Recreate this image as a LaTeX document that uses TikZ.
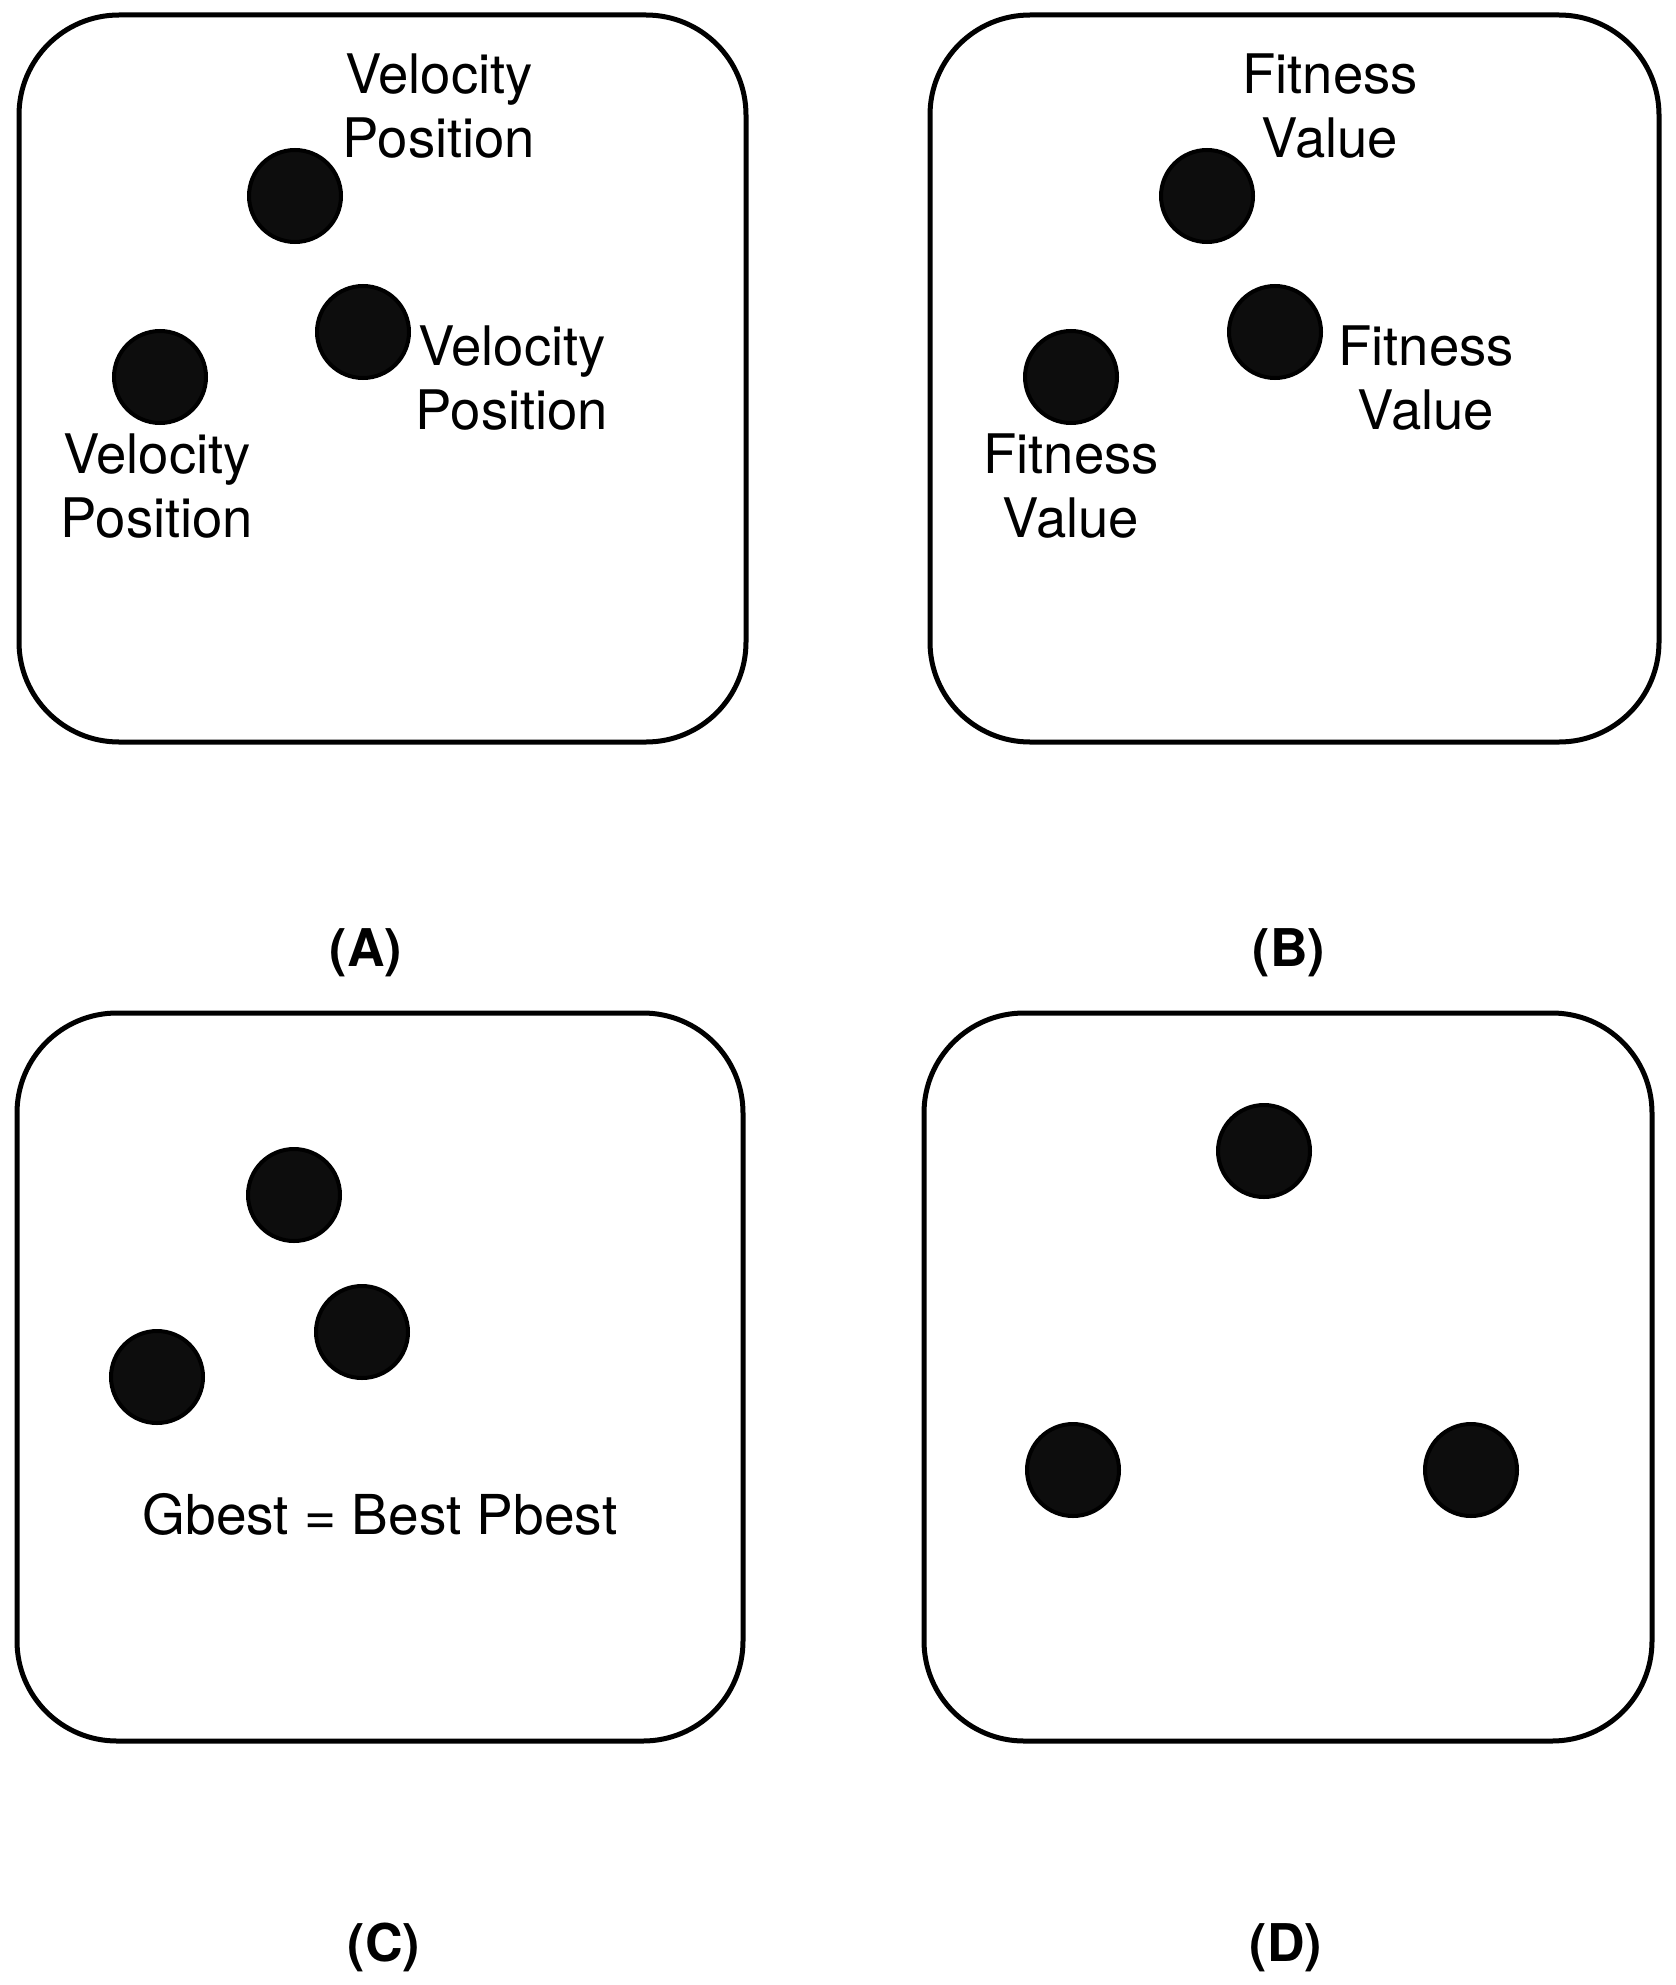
\documentclass[tikz,border=0pt]{standalone}
\usepackage{fontspec}
\setmainfont{TeX Gyre Heros}
\begin{document}
\begin{tikzpicture}[x=1pt,y=-1pt,
  panel/.style={draw=black,line width=5pt,rounded corners=100pt},
  particle/.style={circle,draw=black,line width=4pt,fill=black!95,minimum size=92pt,inner sep=0pt},
  lbl/.style={align=center,inner sep=0pt,font=\fontsize{54.5}{64}\selectfont},
  panelcap/.style={anchor=base,inner sep=0pt,font=\fontsize{52}{60}\selectfont\bfseries}]
\useasboundingbox[fill=white] (0,0) rectangle (1675,1985);
% Panel A
\draw[panel] (19,15) rectangle (746,742);
\node[particle] (a1) at (295,196) {};
\node[particle] (a2) at (363,332) {};
\node[particle] (a3) at (160,377) {};
\node[lbl] (ta1) at (439,106) {Velocity\\Position};
\node[lbl] (ta2) at (512,378) {Velocity\\Position};
\node[lbl] (ta3) at (157,486) {Velocity\\Position};
\node[panelcap] (capA) at (366,966) {(A)};
% Panel B
\draw[panel] (930,15) rectangle (1659,742);
\node[particle] (b1) at (1207,196) {};
\node[particle] (b2) at (1275,332) {};
\node[particle] (b3) at (1071,377) {};
\node[lbl] (tb1) at (1330,106) {Fitness\\Value};
\node[lbl] (tb2) at (1426,378) {Fitness\\Value};
\node[lbl] (tb3) at (1071,486) {Fitness\\Value};
\node[panelcap] (capB) at (1289,966) {(B)};
% Panel C
\draw[panel] (17,1013) rectangle (743,1741);
\node[particle] (c1) at (294,1195) {};
\node[particle] (c2) at (362,1332) {};
\node[particle] (c3) at (157,1377) {};
\node[anchor=base,inner sep=0pt,font=\fontsize{55}{64}\selectfont] (gb) at (380,1534) {Gbest = Best Pbest};
\node[panelcap] (capC) at (384,1961) {(C)};
% Panel D
\draw[panel] (924,1013) rectangle (1652,1741);
\node[particle] (d1) at (1264,1151) {};
\node[particle] (d2) at (1073,1470) {};
\node[particle] (d3) at (1471,1470) {};
\node[panelcap] (capD) at (1286,1961) {(D)};
\end{tikzpicture}
\end{document}
